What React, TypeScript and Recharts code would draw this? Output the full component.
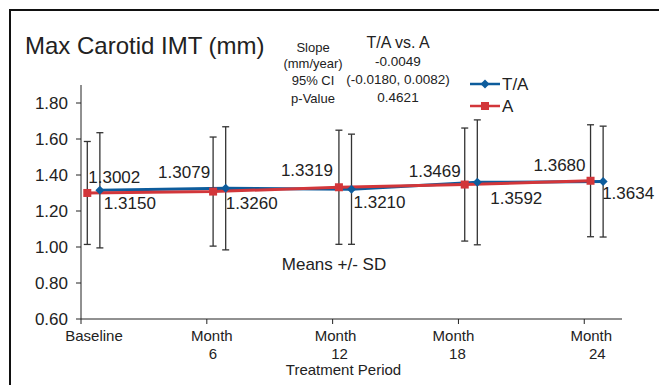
import React from 'react';
import { LineChart, Line, XAxis, YAxis, ErrorBar, LabelList, Legend } from 'recharts';

// months on the x axis
const months = [0, 6, 12, 18, 24];
const tickLabels = [['Baseline'], ['Month', '6'], ['Month', '12'], ['Month', '18'], ['Month', '24']];
const yTicks = [0.6, 0.8, 1.0, 1.2, 1.4, 1.6, 1.8];

// T/A group
const taMean = [1.315, 1.326, 1.321, 1.3592, 1.3634];
const taSD = [0.32, 0.342, 0.306, 0.347, 0.308];
// A group
const aMean = [1.3002, 1.3079, 1.3319, 1.3469, 1.368];
const aSD = [0.286, 0.303, 0.317, 0.314, 0.311];

const BLUE = '#0d5c9c';
const RED = '#d2363a';
const INK = '#222';

// groups are drawn slightly apart from the tick so the bars don't overlap
const taData = months.map((m, i) => ({ x: m + 0.9, y: taMean[i], sd: taSD[i] }));
const aData = months.map((m, i) => ({ x: m + 0.3, y: aMean[i], sd: aSD[i] }));

// label nudges, per point
const taLabelOff = [[4, 13], [0, 15], [2, 13], [13, 16], [-1, 12]];
const aLabelOff = [[1, -15], [-3, -19], [-6, -17], [-4, -13], [-5, -15]];
const tickOff = [[13], [5, 6], [3, 7], [-5, -1], [7, 13]];
const legendOrder = ['T/A', 'A'];

const Diamond = (props: any) => {
  const { cx, cy } = props;
  if (cx == null || cy == null) return null;
  return <polygon points={`${cx},${cy - 4.5} ${cx + 4.5},${cy} ${cx},${cy + 4.5} ${cx - 4.5},${cy}`} fill={BLUE} />;
};

const Square = (props: any) => {
  const { cx, cy } = props;
  if (cx == null || cy == null) return null;
  return <rect x={cx - 4} y={cy - 4} width={8} height={8} fill={RED} />;
};

const taLabel = (props: any) => {
  const { x, y, value, index } = props;
  const [dx, dy] = taLabelOff[index];
  return (
    <text x={x + dx} y={y + dy} dominantBaseline="central" textAnchor="start" fontSize={17} fill={INK}>
      {Number(value).toFixed(4)}
    </text>
  );
};

const aLabel = (props: any) => {
  const { x, y, value, index } = props;
  const [dx, dy] = aLabelOff[index];
  return (
    <text x={x + dx} y={y + dy} dominantBaseline="central" textAnchor={index === 0 ? 'start' : 'end'} fontSize={17} fill={INK}>
      {Number(value).toFixed(4)}
    </text>
  );
};

const XTick = (props: any) => {
  const { x, payload } = props;
  const i = months.indexOf(payload.value);
  if (i < 0) return null;
  return (
    <g>
      {tickLabels[i].map((t, k) => (
        <text key={k} x={x + tickOff[i][k]} y={327 + k * 18} textAnchor="middle" dominantBaseline="central" fontSize={15} fill={INK}>
          {t}
        </text>
      ))}
    </g>
  );
};

const LegendBox = (props: any) => {
  const items = [...(props.payload || [])].sort(
    (a: any, b: any) => legendOrder.indexOf(a.value) - legendOrder.indexOf(b.value)
  );
  return (
    <svg width={70} height={46} style={{ display: 'block' }}>
      {items.map((it: any, k: number) => {
        const cy = 11 + k * 22;
        return (
          <g key={k}>
            <line x1={0} x2={30} y1={cy} y2={cy} stroke={it.color} strokeWidth={2.5} />
            {it.value === 'T/A' ? (
              <polygon points={`15,${cy - 4.5} 19.5,${cy} 15,${cy + 4.5} 10.5,${cy}`} fill={it.color} />
            ) : (
              <rect x={11} y={cy - 4} width={8} height={8} fill={it.color} />
            )}
            <text x={32} y={cy} dominantBaseline="central" fontSize={17} fill={INK}>
              {it.value}
            </text>
          </g>
        );
      })}
    </svg>
  );
};

export default function App() {
  return (
    <div
      style={{
        position: 'relative',
        width: 659,
        height: 385,
        overflow: 'hidden',
        fontFamily: '"Liberation Sans", Arial, sans-serif',
        background: '#fff',
      }}
    >
      <style>{'body{margin:0}'}</style>
      <div style={{ position: 'absolute', left: 8, top: 8, width: 651, height: 377 }}>
        <div
          style={{
            position: 'absolute',
            left: 1,
            top: 1,
            width: 700,
            height: 420,
            borderTop: '2px solid #111',
            borderLeft: '2px solid #111',
          }}
        />
        <div style={{ position: 'absolute', left: 0, top: 0 }}>
          <LineChart width={651} height={377} margin={{ top: 77, right: 37, bottom: 16, left: 13 }}>
            <XAxis
              dataKey="x"
              type="number"
              domain={[0, 25.8]}
              ticks={months}
              allowDataOverflow
              height={50}
              stroke={INK}
              tickSize={5}
              tick={<XTick />}
              interval={0}
            />
            <YAxis
              type="number"
              domain={[0.6, 1.9]}
              ticks={yTicks}
              allowDataOverflow
              width={60}
              stroke={INK}
              tickSize={5}
              tickMargin={8}
              tick={{ fontSize: 17, fill: INK }}
              tickFormatter={(v: number) => v.toFixed(2)}
            />
            <Legend
              layout="vertical"
              verticalAlign="middle"
              align="center"
              wrapperStyle={{ position: 'absolute', left: 462, top: 65, width: 70, height: 46 }}
              content={<LegendBox />}
            />
            <Line
              data={taData}
              dataKey="y"
              name="T/A"
              stroke={BLUE}
              strokeWidth={3}
              dot={<Diamond />}
              activeDot={false}
              isAnimationActive={false}
            >
              <ErrorBar dataKey="sd" direction="y" width={3.5} stroke="#333" strokeWidth={1.3} isAnimationActive={false} />
              <LabelList dataKey="y" content={taLabel} />
            </Line>
            <Line
              data={aData}
              dataKey="y"
              name="A"
              stroke={RED}
              strokeWidth={3}
              dot={<Square />}
              activeDot={false}
              isAnimationActive={false}
            >
              <ErrorBar dataKey="sd" direction="y" width={3.5} stroke="#333" strokeWidth={1.3} isAnimationActive={false} />
              <LabelList dataKey="y" content={aLabel} />
            </Line>
          </LineChart>
        </div>
        <svg width={651} height={377} style={{ position: 'absolute', left: 0, top: 0, pointerEvents: 'none' }}>
          <text x={17} y={37} dominantBaseline="central" fontSize={24} fill={INK}>
            Max Carotid IMT (mm)
          </text>
          <g fontSize={13} fill={INK} textAnchor="middle">
            <text x={305} y={39} dominantBaseline="central">Slope</text>
            <text x={305} y={55} dominantBaseline="central">(mm/year)</text>
            <text x={305} y={72} dominantBaseline="central">95% CI</text>
            <text x={305} y={90} dominantBaseline="central">p-Value</text>
          </g>
          <text x={390} y={34} dominantBaseline="central" textAnchor="middle" fontSize={16} fill={INK}>
            T/A vs. A
          </text>
          <g fontSize={13.5} fill={INK} textAnchor="middle">
            <text x={390} y={53} dominantBaseline="central">-0.0049</text>
            <text x={390} y={71} dominantBaseline="central">(-0.0180, 0.0082)</text>
            <text x={390} y={89} dominantBaseline="central">0.4621</text>
          </g>
          <text x={326} y={256} dominantBaseline="central" textAnchor="middle" fontSize={17} fill={INK}>
            Means +/- SD
          </text>
          <text x={335.5} y={361} dominantBaseline="central" textAnchor="middle" fontSize={15} fill={INK}>
            Treatment Period
          </text>
        </svg>
      </div>
    </div>
  );
}
